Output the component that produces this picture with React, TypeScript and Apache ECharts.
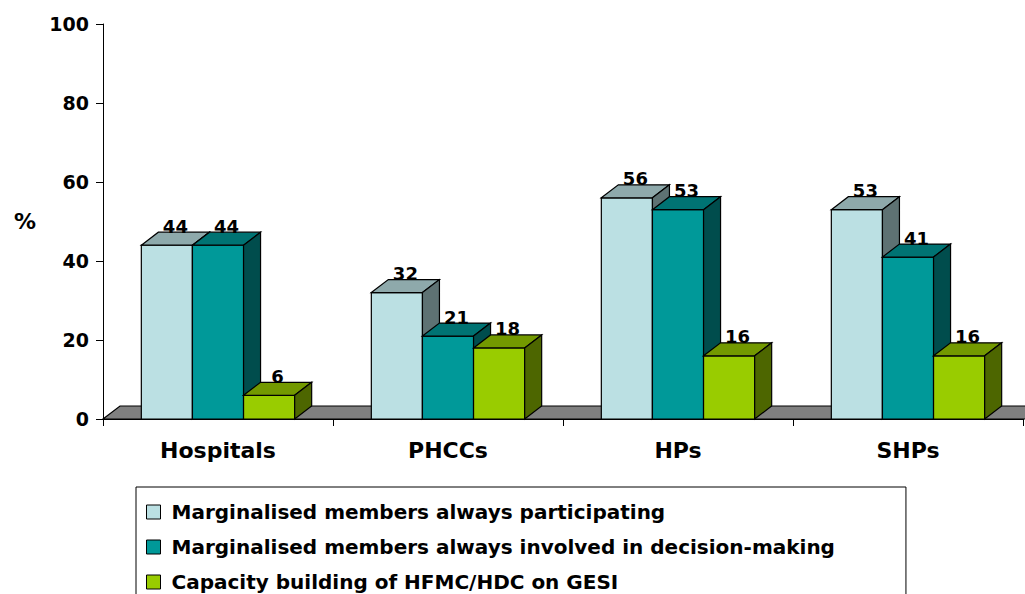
import React, { useEffect, useRef } from "react";
import * as echarts from "echarts";

const categories = ["Hospitals", "PHCCs", "HPs", "SHPs"];
const seriesNames = [
  "Marginalised members always participating",
  "Marginalised members always involved in decision-making",
  "Capacity building of HFMC/HDC on GESI",
];
const participating = [44, 32, 56, 53];
const decisionMaking = [44, 21, 53, 41];
const capacityBuilding = [6, 18, 16, 16];
const yTicks = [0, 20, 40, 60, 80, 100];

const FONT = '"DejaVu Sans", sans-serif';

// front, top and side shades of each bar colour
const shades = [
  { front: "#BBE0E3", top: "#8EA9AB", side: "#5E7273" },
  { front: "#009999", top: "#007373", side: "#004D4D" },
  { front: "#99CC00", top: "#739900", side: "#4D6600" },
];

const DX = 17;
const DY = 13;

function barRenderer(idx: number) {
  const c = shades[idx];
  return (params: any, api: any) => {
    const cat = api.value(0);
    const val = api.value(1);
    const base = api.coord([cat, 0]);
    const top = api.coord([cat, val]);
    const catW = api.size([1, 0])[0];
    const bw = catW / 4.5;
    const x0 = base[0] + (idx - 1.5) * bw;
    const x1 = x0 + bw;
    const y0 = base[1];
    const y1 = top[1];
    const line = { stroke: "#000", lineWidth: 1.2, lineJoin: "miter" };
    return {
      type: "group",
      children: [
        {
          type: "polygon",
          shape: { points: [[x0, y1], [x1, y1], [x1, y0], [x0, y0]] },
          style: { fill: c.front, ...line },
        },
        {
          type: "polygon",
          shape: { points: [[x0, y1], [x0 + DX, y1 - DY], [x1 + DX, y1 - DY], [x1, y1]] },
          style: { fill: c.top, ...line },
        },
        {
          type: "polygon",
          shape: { points: [[x1, y1], [x1 + DX, y1 - DY], [x1 + DX, y0 - DY], [x1, y0]] },
          style: { fill: c.side, ...line },
        },
        {
          type: "text",
          x: (x0 + x1) / 2 + DX / 2,
          y: y1 - DY + 3,
          style: {
            text: String(val),
            fill: "#000",
            font: `bold 18px ${FONT}`,
            align: "center",
            verticalAlign: "bottom",
          },
        },
      ],
    };
  };
}

function floorRenderer(params: any, api: any) {
  const catW = api.size([1, 0])[0];
  const first = api.coord([0, 0]);
  const last = api.coord([categories.length - 1, 0]);
  const xl = first[0] - catW / 2;
  const xr = last[0] + catW / 2 + 30;
  const y = first[1];
  return {
    type: "polygon",
    shape: { points: [[xl, y], [xl + DX, y - DY], [xr + DX, y - DY], [xr, y]] },
    style: { fill: "#808080", stroke: "#000", lineWidth: 1.2 },
  };
}

export default function App() {
  const ref = useRef<HTMLDivElement>(null);

  useEffect(() => {
    if (!ref.current) return;
    const chart = echarts.init(ref.current, null, { renderer: "svg" });
    const values = [participating, decisionMaking, capacityBuilding];

    chart.setOption({
      animation: false,
      backgroundColor: "#fff",
      grid: { left: 103, right: 2, top: 24, bottom: 175, containLabel: false },
      xAxis: {
        type: "category",
        data: categories,
        axisLine: { show: true, lineStyle: { color: "#000", width: 1 } },
        axisTick: { show: true, length: 7, lineStyle: { color: "#000" } },
        axisLabel: {
          color: "#000",
          fontFamily: FONT,
          fontWeight: "bold",
          fontSize: 22,
          margin: 20,
        },
        splitLine: { show: false },
      },
      yAxis: {
        type: "value",
        min: yTicks[0],
        max: yTicks[yTicks.length - 1],
        interval: 20,
        name: "%",
        nameLocation: "middle",
        nameRotate: 0,
        nameGap: 67,
        nameTextStyle: { color: "#000", fontFamily: FONT, fontWeight: "bold", fontSize: 22 },
        axisLine: { show: true, lineStyle: { color: "#000", width: 1 } },
        axisTick: { show: true, length: 7, lineStyle: { color: "#000" } },
        axisLabel: {
          color: "#000",
          fontFamily: FONT,
          fontWeight: "bold",
          fontSize: 19,
          margin: 14,
        },
        splitLine: { show: false },
      },
      legend: {
        orient: "vertical",
        left: 136,
        top: 487,
        width: 790,
        height: 200,
        padding: [13, 71, 30, 10],
        itemGap: 11,
        itemWidth: 14,
        itemHeight: 14,
        icon: "rect",
        borderColor: "#000",
        borderWidth: 1,
        backgroundColor: "#fff",
        itemStyle: { borderColor: "#000", borderWidth: 1 },
        textStyle: {
          color: "#000",
          fontFamily: FONT,
          fontWeight: "bold",
          fontSize: 20,
          lineHeight: 24,
          padding: [0, 0, 0, 6],
        },
        data: seriesNames,
      },
      series: [
        {
          type: "custom",
          name: "floor",
          renderItem: floorRenderer,
          data: [[0, 0]],
          clip: false,
          silent: true,
          z: 1,
        },
        ...values.map((vals, i) => ({
          type: "custom",
          name: seriesNames[i],
          renderItem: barRenderer(i),
          encode: { x: 0, y: 1 },
          data: vals.map((v, k) => [k, v]),
          itemStyle: { color: shades[i].front, borderColor: "#000", borderWidth: 1 },
          clip: false,
          z: 2,
        })),
      ],
    });

    return () => chart.dispose();
  }, []);

  return (
    <div
      ref={ref}
      style={{ position: "absolute", left: 0, top: 0, width: 1025, height: 594 }}
    />
  );
}
